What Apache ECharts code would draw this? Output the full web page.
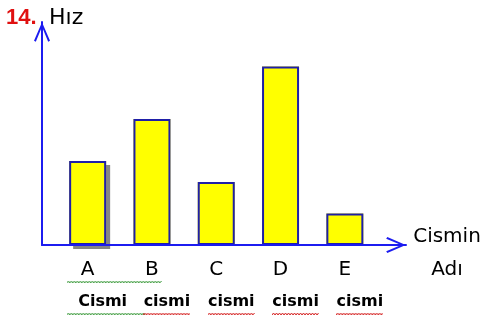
<!DOCTYPE html>
<html>
<head>
<meta charset="utf-8">
<script src="https://cdn.jsdelivr.net/npm/echarts@6/dist/echarts.min.js"></script>
<style>html,body{margin:0;padding:0;background:#fff}#c{width:490px;height:321px}</style>
</head>
<body>
<div id="c"></div>
<script>
var categories = ['A', 'B', 'C', 'D', 'E'];
var subLabels = ['Cismi', 'cismi', 'cismi', 'cismi', 'cismi'];
var speeds = [4, 6, 3, 8.5, 1.5];
var yMax = 10.62;

var chevron = 'path://M8 0 L16 18.5 L14.2 19.6 L8 4.6 L1.8 19.6 L0 18.5 Z';
var axisBlue = '#1c1cf0';
var font = 'DejaVu Sans';

function wavy(color, w) {
  var c = document.createElement('canvas');
  c.width = w; c.height = 4;
  var ctx = c.getContext('2d');
  ctx.strokeStyle = color; ctx.lineWidth = 1;
  ctx.beginPath();
  var k = 0;
  for (var x = 0; x <= w; x += 1.5, k++) {
    var y = (k % 2 === 0) ? 3 : 1;
    if (k === 0) ctx.moveTo(x, y); else ctx.lineTo(x, y);
  }
  ctx.stroke();
  return c;
}
var redWave = wavy('#d42020', 47);
var greenWaveRow1 = wavy('#3c9a3c', 95);
var greenWaveRow2 = wavy('#3c9a3c', 78);

var chart = echarts.init(document.getElementById('c'), null, {renderer: 'canvas'});
chart.setOption({
  animation: false,
  backgroundColor: '#fff',
  title: [{
    text: '14.', left: 6, top: 7, padding: 0,
    textStyle: {color: '#e01010', fontFamily: 'Liberation Sans', fontWeight: 'bold', fontSize: 22}
  }],
  grid: [
    {left: 55.5, right: 113, top: 22, bottom: 76},
    {left: 42, right: 84, top: 22, bottom: 76}
  ],
  xAxis: [{
    type: 'category', gridIndex: 0, data: categories,
    axisLine: {show: false}, axisTick: {show: false},
    axisLabel: {
      interval: 0, margin: 15,
      formatter: function (v, i) {
        var line2 = i === 0 ? '{s53| }{g95| }' : '{e| }';
        var line4 = i === 0 ? '{s36| }{g78| }' : '{s30| }{r| }';
        return '{a|' + v + '}\n' + line2 + '\n{sp| }\n{b|' + subLabels[i] + '}\n' + line4;
      },
      rich: {
        a: {fontFamily: font, fontSize: 20, lineHeight: 20, color: '#000'},
        e: {fontSize: 2, lineHeight: 4, height: 4, width: 2},
        sp: {fontSize: 2, lineHeight: 9, height: 9, width: 2},
        s53: {fontSize: 2, lineHeight: 4, height: 4, width: 53},
        g95: {fontSize: 2, lineHeight: 4, height: 4, width: 95, backgroundColor: {image: greenWaveRow1}},
        b: {fontFamily: font, fontSize: 16, fontWeight: 'bold', lineHeight: 18, color: '#000', padding: [0, 0, 0, 30]},
        s30: {fontSize: 2, lineHeight: 6, height: 4, width: 30},
        s36: {fontSize: 2, lineHeight: 6, height: 4, width: 36},
        r: {fontSize: 2, lineHeight: 6, height: 4, width: 47, backgroundColor: {image: redWave}},
        g78: {fontSize: 2, lineHeight: 6, height: 4, width: 78, backgroundColor: {image: greenWaveRow2}}
      }
    }
  }, {
    type: 'value', gridIndex: 1, min: 0, max: 1, z: 5,
    axisLine: {show: true, lineStyle: {color: axisBlue, width: 2}, symbol: ['none', chevron], symbolSize: [16, 20], symbolOffset: [0, -10]},
    axisTick: {show: false}, axisLabel: {show: false}, splitLine: {show: false},
    name: '{a|Cismin}\n{b|Adı}', nameLocation: 'end', nameGap: 41,
    nameTextStyle: {
      align: 'center', verticalAlign: 'middle',
      rich: {
        a: {fontFamily: font, fontSize: 20, color: '#000', lineHeight: 50, align: 'center'},
        b: {fontFamily: font, fontSize: 20, color: '#000', lineHeight: 16, align: 'center'}
      }
    }
  }],
  yAxis: [{
    type: 'value', gridIndex: 0, min: 0, max: yMax, offset: 13.5,
    axisLine: {show: true, lineStyle: {color: axisBlue, width: 2}, symbol: ['none', chevron], symbolSize: [16, 20], symbolOffset: [0, -10]},
    axisTick: {show: false}, axisLabel: {show: false}, splitLine: {show: false},
    name: 'Hız', nameLocation: 'end', nameGap: 4,
    nameTextStyle: {fontFamily: font, fontSize: 22, color: '#000', align: 'left', verticalAlign: 'middle', padding: [0, 0, 0, 7]}
  }, {
    type: 'value', gridIndex: 1, show: false
  }],
  series: [{
    type: 'bar', xAxisIndex: 0, yAxisIndex: 0, barWidth: 37, z: 2,
    data: speeds.map(function (v, i) {
      var item = {value: v};
      if (i === 0) {
        item.itemStyle = {shadowColor: '#858585', shadowBlur: 0, shadowOffsetX: 4, shadowOffsetY: 4};
      }
      return item;
    }),
    itemStyle: {color: '#ffff00'}
  }, {
    type: 'bar', xAxisIndex: 0, yAxisIndex: 0, barWidth: 37, barGap: '-100%', z: 3,
    data: speeds,
    itemStyle: {color: 'rgba(0,0,0,0)', borderColor: '#1f1fa8', borderWidth: 2}
  }]
});
</script>
</body>
</html>
